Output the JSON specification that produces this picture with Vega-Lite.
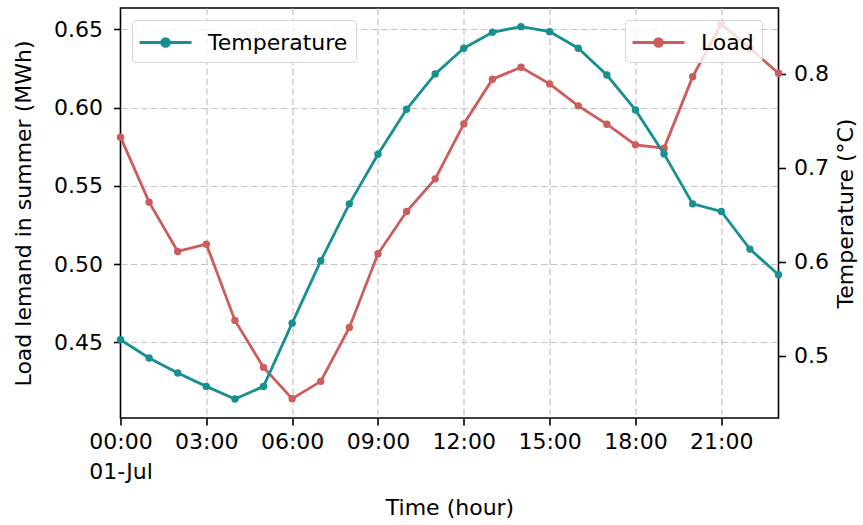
{
  "$schema": "https://vega.github.io/schema/vega-lite/v6.json",
  "width": 658,
  "height": 410,
  "autosize": "none",
  "padding": {"left": 120.5, "top": 8, "right": 84.5, "bottom": 107},
  "background": "white",
  "config": {
    "font": "DejaVu Sans",
    "view": {"stroke": "black", "strokeWidth": 1.6},
    "axis": {
      "labelFont": "DejaVu Sans",
      "titleFont": "DejaVu Sans",
      "labelFontSize": 22,
      "titleFontSize": 22,
      "labelColor": "black",
      "titleColor": "black",
      "titleFontWeight": "normal",
      "domain": false,
      "tickColor": "black",
      "tickWidth": 1.6,
      "tickSize": 7,
      "gridColor": "#c4c4c4",
      "gridWidth": 1.2,
      "gridDash": [6.5, 3.5],
      "labelFlush": false,
      "labelOverlap": false
    },
    "legend": {
      "labelFont": "DejaVu Sans",
      "labelFontSize": 22,
      "labelColor": "black"
    }
  },
  "data": {
    "values": [
      {"hour": 0, "temperature": 0.4517, "load": 0.7327},
      {"hour": 1, "temperature": 0.4400, "load": 0.6635},
      {"hour": 2, "temperature": 0.4304, "load": 0.6110},
      {"hour": 3, "temperature": 0.4219, "load": 0.6188},
      {"hour": 4, "temperature": 0.4138, "load": 0.5376},
      {"hour": 5, "temperature": 0.4219, "load": 0.4876},
      {"hour": 6, "temperature": 0.4623, "load": 0.4543},
      {"hour": 7, "temperature": 0.5021, "load": 0.4727},
      {"hour": 8, "temperature": 0.5385, "load": 0.5301},
      {"hour": 9, "temperature": 0.5702, "load": 0.6085},
      {"hour": 10, "temperature": 0.5989, "load": 0.6535},
      {"hour": 11, "temperature": 0.6215, "load": 0.6883},
      {"hour": 12, "temperature": 0.6379, "load": 0.7468},
      {"hour": 13, "temperature": 0.6481, "load": 0.7944},
      {"hour": 14, "temperature": 0.6517, "load": 0.8071},
      {"hour": 15, "temperature": 0.6485, "load": 0.7894},
      {"hour": 16, "temperature": 0.6379, "load": 0.7660},
      {"hour": 17, "temperature": 0.6208, "load": 0.7465},
      {"hour": 18, "temperature": 0.5985, "load": 0.7245},
      {"hour": 19, "temperature": 0.5704, "load": 0.7210},
      {"hour": 20, "temperature": 0.5385, "load": 0.7971},
      {"hour": 21, "temperature": 0.5336, "load": 0.8532},
      {"hour": 22, "temperature": 0.5096, "load": 0.8273},
      {"hour": 23, "temperature": 0.4932, "load": 0.8007}
    ]
  },
  "layer": [
    {
      "mark": {"type": "line", "strokeWidth": 2.8, "point": {"filled": true, "size": 55}},
      "encoding": {
        "x": {
          "field": "hour", "type": "quantitative",
          "scale": {"domain": [0, 23], "nice": false, "zero": false},
          "axis": {
            "values": [0, 3, 6, 9, 12, 15, 18, 21],
            "labelExpr": "datum.value == 0 ? ['00:00', '01-Jul'] : (datum.value < 10 ? '0' : '') + datum.value + ':00'",
            "labelLineHeight": 30,
            "labelPadding": 6,
            "title": "Time (hour)",
            "titlePadding": 15,
            "grid": true,
            "gridOpacity": {"condition": {"test": "datum.value == 0", "value": 0}, "value": 1}
          }
        },
        "y": {
          "field": "load", "type": "quantitative",
          "scale": {"domain": [0.4337, 0.8702], "nice": false, "zero": false},
          "axis": {
            "orient": "right",
            "values": [0.5, 0.6, 0.7, 0.8],
            "format": ".1f",
            "grid": false,
            "labelPadding": 8,
            "title": "Temperature (°C)",
            "titleAngle": 270,
            "titlePadding": 29
          }
        },
        "color": {
          "datum": "Load",
          "scale": {"range": ["#cd5c5c"]},
          "legend": {
            "orient": "none", "legendX": 504.5, "legendY": 12,
            "title": null,
            "symbolType": "M-1.15,0L2.85,0M1.15,0A0.3,0.3 0 1,1 0.55,0A0.3,0.3 0 1,1 1.15,0Z",
            "symbolSize": 676,
            "symbolStrokeWidth": 2.8,
            "symbolFillColor": "#cd5c5c",
            "symbolStrokeColor": "#cd5c5c",
            "labelOffset": 39,
            "padding": 8,
            "strokeColor": "#d6d6d6",
            "fillColor": "rgba(255,255,255,0.8)",
            "cornerRadius": 4
          }
        }
      }
    },
    {
      "mark": {"type": "line", "strokeWidth": 2.8, "point": {"filled": true, "size": 55}},
      "encoding": {
        "x": {
          "field": "hour", "type": "quantitative",
          "scale": {"domain": [0, 23], "nice": false, "zero": false},
          "axis": {
            "values": [0, 3, 6, 9, 12, 15, 18, 21],
            "labelExpr": "datum.value == 0 ? ['00:00', '01-Jul'] : (datum.value < 10 ? '0' : '') + datum.value + ':00'",
            "labelLineHeight": 30,
            "labelPadding": 6,
            "title": "Time (hour)",
            "titlePadding": 15,
            "grid": true,
            "gridOpacity": {"condition": {"test": "datum.value == 0", "value": 0}, "value": 1}
          }
        },
        "y": {
          "field": "temperature", "type": "quantitative",
          "scale": {"domain": [0.4017, 0.6636], "nice": false, "zero": false},
          "axis": {
            "orient": "left",
            "values": [0.45, 0.5, 0.55, 0.6, 0.65],
            "format": ".2f",
            "grid": true,
            "labelPadding": 11,
            "title": "Load lemand in summer (MWh)",
            "titlePadding": 18
          }
        },
        "color": {
          "datum": "Temperature",
          "scale": {"range": ["#169090"]},
          "legend": {
            "orient": "none", "legendX": 11.5, "legendY": 12,
            "title": null,
            "symbolType": "M-1.15,0L2.85,0M1.15,0A0.3,0.3 0 1,1 0.55,0A0.3,0.3 0 1,1 1.15,0Z",
            "symbolSize": 676,
            "symbolStrokeWidth": 2.8,
            "symbolFillColor": "#169090",
            "symbolStrokeColor": "#169090",
            "labelOffset": 39,
            "padding": 8,
            "strokeColor": "#d6d6d6",
            "fillColor": "rgba(255,255,255,0.8)",
            "cornerRadius": 4
          }
        }
      }
    }
  ],
  "resolve": {
    "scale": {"y": "independent", "color": "independent"},
    "legend": {"color": "independent"}
  }
}
